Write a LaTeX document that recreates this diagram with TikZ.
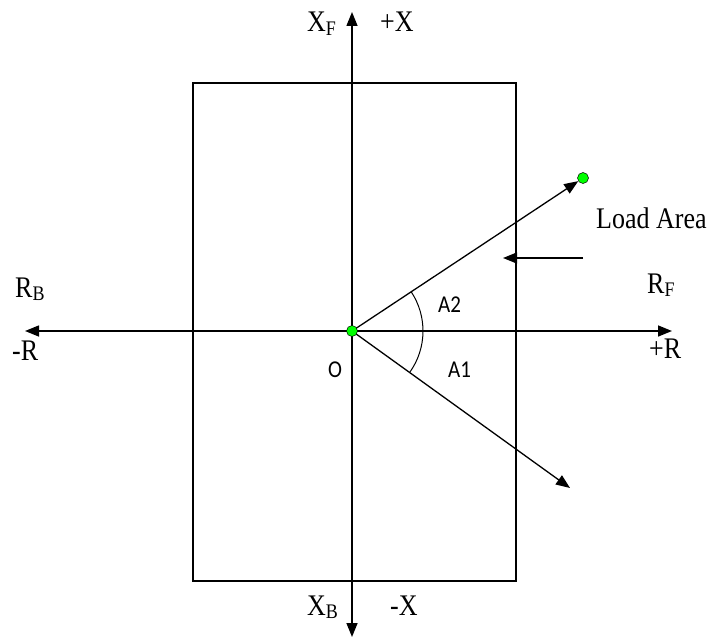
\documentclass[tikz,border=0pt]{standalone}
\usepackage{fontspec}
\setmainfont{Liberation Serif}
\newfontfamily\calib{Carlito}
\usetikzlibrary{arrows.meta}
\newcommand{\vs}[1]{\scalebox{1}[1.15]{#1}}
\newcommand{\sbs}[1]{\raisebox{-3pt}{\fontsize{18}{18}\selectfont #1}}
\begin{document}
\begin{tikzpicture}[x=1pt,y=-1pt,
  axis/.style={line width=1.5pt, -{Triangle[length=14pt,width=11pt]}},
  ray/.style={line width=1.3pt, -{Triangle[length=14pt,width=11pt]}},
  lbl/.style={anchor=base west, inner sep=0pt, font=\fontsize{26}{26}\selectfont},
  slbl/.style={anchor=base west, inner sep=0pt, font=\calib\fontsize{21}{21}\selectfont},
  dot/.style={circle, fill=green, draw=black, line width=0.5pt, minimum size=11pt, inner sep=0pt}]
\useasboundingbox (0,0) rectangle (708,639);
\draw[line width=1.2pt] (193,83) rectangle (516,581);
\coordinate (o) at (352,331);
\coordinate (ytop) at (352,12);
\coordinate (ybot) at (352,637);
\coordinate (xl) at (25,331);
\coordinate (xr) at (672,331);
\coordinate (q) at (570,488);
\coordinate (la1) at (583,258);
\coordinate (la2) at (503,258);
\node[dot] (P) at (583,178) {};
\draw[axis] (o) -- (ytop);
\draw[axis] (o) -- (ybot);
\draw[axis] (o) -- (xl);
\draw[axis] (o) -- (xr);
\draw[ray] (o) -- (P);
\draw[ray] (o) -- (q);
\draw[line width=1pt] (o) ++(-33.5:71) arc[start angle=-33.5, end angle=35.6, radius=71];
\draw[ray] (la1) -- (la2);
\node[dot] (O) at (o) {};
\node[lbl] (xf) at (307,32) {\vs{X\sbs{F}}};
\node[lbl] (px) at (380,32) {\vs{+X}};
\node[lbl] (xb) at (307,615) {\vs{X\sbs{B}}};
\node[lbl] (mx) at (390,615) {\vs{-X}};
\node[lbl] (rb) at (15,297) {\vs{R\sbs{B}}};
\node[lbl] (mr) at (12,360) {\vs{-R}};
\node[lbl] (rf) at (647,293) {\vs{R\sbs{F}}};
\node[lbl] (pr) at (649,358) {\vs{+R}};
\node[lbl] (load) at (596,228) {\vs{Load Area}};
\node[slbl] (ol) at (328,377) {\vs{O}};
\node[slbl] (a2) at (438,312) {\vs{A2}};
\node[slbl] (a1) at (448,377) {\vs{A1}};
\end{tikzpicture}
\end{document}
